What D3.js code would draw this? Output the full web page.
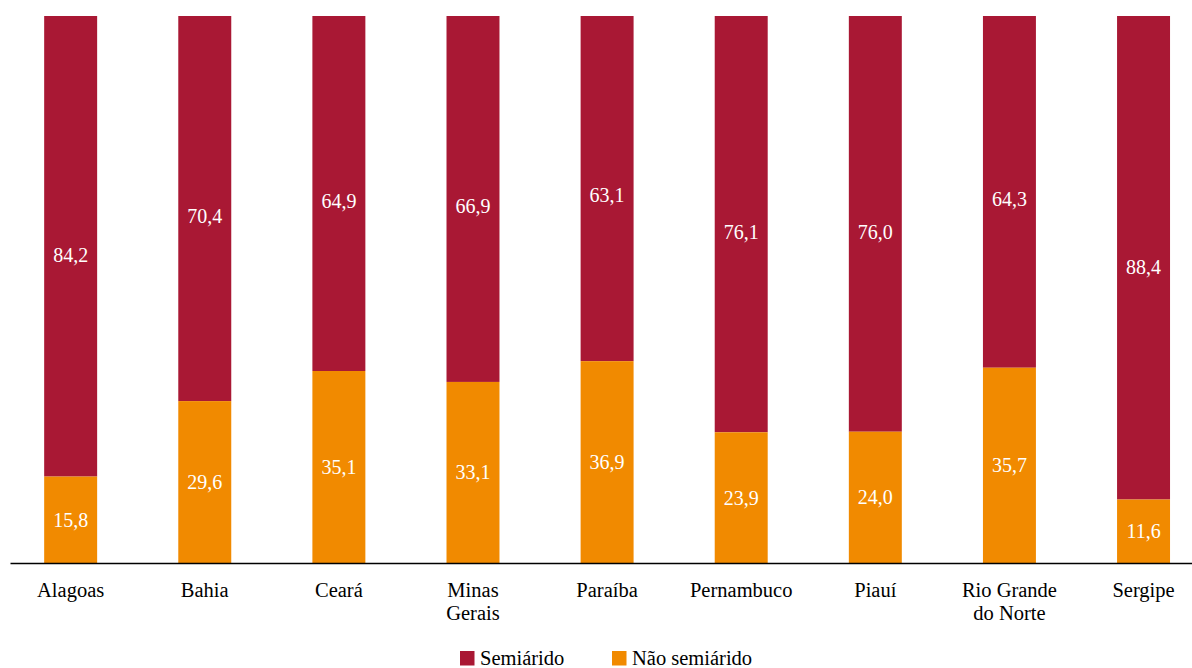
<!DOCTYPE html>
<html><head><meta charset="utf-8">
<script src="https://cdn.jsdelivr.net/npm/d3@7"></script>
</head><body style="margin:0;background:#fff">
<div id="chart"></div>
<script>
const categories = [["Alagoas"],["Bahia"],["Ceará"],["Minas","Gerais"],["Paraíba"],["Pernambuco"],["Piauí"],["Rio Grande","do Norte"],["Sergipe"]];
const naoSemiarido = [15.8, 29.6, 35.1, 33.1, 36.9, 23.9, 24.0, 35.7, 11.6];
const semiarido = [84.2, 70.4, 64.9, 66.9, 63.1, 76.1, 76.0, 64.3, 88.4];
const seriesNames = ["Semiárido", "Não semiárido"];
const colors = {semi:"#A91834", nao:"#F18A00"};
const FONT = '"Times New Roman", Tinos, "Liberation Serif", serif';

const svg = d3.select("#chart").append("svg").attr("width", 1192).attr("height", 668)
  .style("display", "block").style("font-family", FONT);
const names = categories.map(c => c.join(" "));
const x = d3.scaleBand().domain(names).range([3.6, 1210.6]).paddingInner(0.605).paddingOuter(0.3025);
const y = d3.scaleLinear().domain([0, 100]).range([563, 16]);
const fmt = v => v.toFixed(1).replace(".", ",");

const g = svg.append("g");
names.forEach((n, i) => {
  const o = naoSemiarido[i], s = semiarido[i];
  g.append("rect").attr("x", x(n)).attr("width", x.bandwidth())
    .attr("y", y(o + s)).attr("height", y(o) - y(o + s)).attr("fill", colors.semi);
  g.append("rect").attr("x", x(n)).attr("width", x.bandwidth())
    .attr("y", y(o)).attr("height", y(0) - y(o)).attr("fill", colors.nao);
  g.append("text").attr("x", x(n) + x.bandwidth()/2).attr("y", y(o/2)).attr("dy", "0.35em")
    .attr("text-anchor", "middle").attr("fill", "#fff").style("font-family", FONT).style("font-size", "20px").text(fmt(o));
  g.append("text").attr("x", x(n) + x.bandwidth()/2).attr("y", y(o + s*0.48)).attr("dy", "0.35em")
    .attr("text-anchor", "middle").attr("fill", "#fff").style("font-family", FONT).style("font-size", "20px").text(fmt(s));
});

svg.append("line").attr("x1", 10.5).attr("x2", 1192).attr("y1", y(0)+0.5).attr("y2", y(0)+0.5)
  .attr("stroke", "#000").attr("stroke-width", 1.3);
names.forEach((n, i) => {
  const t = svg.append("text").attr("x", x(n) + x.bandwidth()/2).attr("y", 597)
    .attr("text-anchor", "middle").style("font-family", FONT).style("font-size", "20.5px").attr("fill", "#000");
  categories[i].forEach((line, j) => {
    t.append("tspan").attr("x", x(n) + x.bandwidth()/2).attr("dy", j ? 23 : 0).text(line);
  });
});

const leg = [{name: seriesNames[0], c: colors.semi, x: 460}, {name: seriesNames[1], c: colors.nao, x: 612}];
leg.forEach(l => {
  svg.append("rect").attr("x", l.x).attr("y", 651).attr("width", 14.5).attr("height", 14.5).attr("fill", l.c);
  svg.append("text").attr("x", l.x + 20).attr("y", 665).style("font-family", FONT).style("font-size", "20.5px").attr("fill", "#000").text(l.name);
});
</script></body></html>
